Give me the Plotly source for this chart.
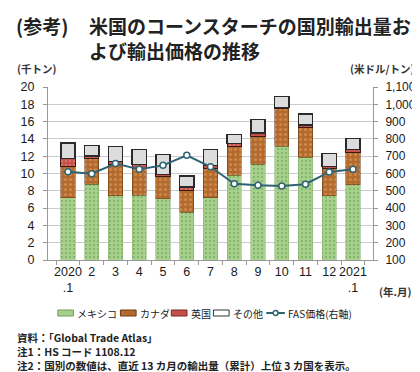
import plotly.graph_objects as go

categories = ["2020<br>.1", "2", "3", "4", "5", "6", "7", "8", "9", "10", "11", "12", "2021<br>.1"]
mexico = [7.2, 8.75, 7.4, 7.5, 7.1, 5.5, 7.2, 9.8, 11.05, 13.15, 11.9, 7.4, 8.7]
canada = [3.65, 3.0, 3.65, 3.05, 2.55, 2.5, 3.35, 3.35, 3.25, 4.35, 3.45, 3.2, 3.7]
uk = [0.9, 0.25, 0.35, 0.5, 0.25, 0.45, 0.4, 0.3, 0.4, 0.15, 0.25, 0.2, 0.4]
other = [1.8, 1.25, 1.7, 1.75, 2.3, 1.25, 1.8, 1.05, 1.55, 1.25, 1.3, 1.5, 1.25]
fas_price = [610, 599, 658, 624, 647, 705, 639, 541, 532, 528, 538, 609, 624]

series_names = ["メキシコ", "カナダ", "英国", "その他", "FAS価格(右軸)"]

FONT = "Noto Sans CJK JP"
NUMFONT = "Liberation Sans, Noto Sans CJK JP"
GREEN, GREEN_FG = "#a8d08d", "#5e9a4c"
BROWN, BROWN_FG = "#b36a2e", "#e6a766"
RED, RED_FG = "#c4504a", "#f09080"
GREY = "#dcdcdc"
LINEC = "#2f6373"

fig = go.Figure()
fig.add_trace(go.Bar(
    x=categories, y=mexico, name=series_names[0],
    marker=dict(color=GREEN, line=dict(color="#7fae6a", width=0.5),
                pattern=dict(shape=".", fgcolor=GREEN_FG, size=4, solidity=0.25)),
))
fig.add_trace(go.Bar(
    x=categories, y=canada, name=series_names[1],
    marker=dict(color=BROWN, line=dict(color="#5a3010", width=0.5),
                pattern=dict(shape=".", fgcolor=BROWN_FG, size=5, solidity=0.3)),
))
fig.add_trace(go.Bar(
    x=categories, y=uk, name=series_names[2],
    marker=dict(color=RED, line=dict(color="#3a1a10", width=1),
                pattern=dict(shape=".", fgcolor=RED_FG, size=4, solidity=0.3)),
))
fig.add_trace(go.Bar(
    x=categories, y=other, name=series_names[3],
    marker=dict(color=GREY, line=dict(color="#2a2a2a", width=1.5)),
))
fig.add_trace(go.Scatter(
    x=categories, y=fas_price, name=series_names[4], yaxis="y2",
    mode="lines+markers",
    line=dict(color=LINEC, width=2),
    marker=dict(symbol="circle", size=6, color="white", line=dict(color=LINEC, width=1.5)),
))

plot_top, plot_bottom, plot_left, plot_right = 79, 252, 40, 372
ph = plot_bottom - plot_top
pw = plot_right - plot_left

def py(ypix):
    return (plot_bottom - ypix) / ph

def px(xpix):
    return (xpix - plot_left) / pw

fig.update_layout(
    width=420, height=372,
    margin=dict(l=plot_left, r=420 - plot_right, t=plot_top, b=372 - plot_bottom),
    paper_bgcolor="white", plot_bgcolor="white",
    barmode="stack", bargap=0.41,
    font=dict(family=FONT, color="#222222", size=12),
    showlegend=False,
    xaxis=dict(type="category", showgrid=False, showline=True, linecolor="#999999", linewidth=1,
               ticks="outside", tickson="boundaries", ticklen=4, tickcolor="#999999",
               tickfont=dict(size=12.5, family=NUMFONT, color="#1a1a1a"), tickangle=0),
    yaxis=dict(range=[0, 20], dtick=2, showgrid=True, gridcolor="#cccccc", gridwidth=1,
               showline=True, linecolor="#999999", ticks="outside", ticklen=4, tickcolor="#999999",
               ticklabelstandoff=6,
               tickfont=dict(size=12.5, family=NUMFONT, color="#1a1a1a"), zeroline=False),
    yaxis2=dict(range=[100, 1100], dtick=100, overlaying="y", side="right", showgrid=False,
                showline=True, linecolor="#999999", ticks="outside", ticklen=4, tickcolor="#999999",
                ticklabelstandoff=5,
                tickformat=",", tickfont=dict(size=12, family=NUMFONT, color="#1a1a1a"), zeroline=False),
)

annotations = [
    dict(text="<b>(参考)</b>", x=px(5), y=py(17), xanchor="left", yanchor="middle",
         font=dict(size=19, family=FONT, color="#222")),
    dict(text="<b>米国のコーンスターチの国別輸出量お</b>", x=px(80), y=py(17), xanchor="left", yanchor="middle",
         font=dict(size=19, family=FONT, color="#222")),
    dict(text="<b>よび輸出価格の推移</b>", x=px(80), y=py(42), xanchor="left", yanchor="middle",
         font=dict(size=19, family=FONT, color="#222")),
    dict(text="<b>(千トン)</b>", x=px(6), y=py(61), xanchor="left", yanchor="middle",
         font=dict(size=10.5, family=FONT, color="#333")),
    dict(text="<b>(米ドル/トン)</b>", x=px(417), y=py(61), xanchor="right", yanchor="middle",
         font=dict(size=10.5, family=FONT, color="#333")),
    dict(text="<b>(年.月)</b>", x=px(376), y=py(283), xanchor="left", yanchor="middle",
         font=dict(size=10.5, family=FONT, color="#333")),
    dict(text="<b>資料：「Global Trade Atlas」</b>", x=px(6), y=py(329), xanchor="left", yanchor="middle",
         font=dict(size=10.5, family=FONT, color="#222")),
    dict(text="<b>注1：HS コード 1108.12</b>", x=px(6), y=py(343), xanchor="left", yanchor="middle",
         font=dict(size=10.5, family=FONT, color="#222")),
    dict(text="<b>注2：国別の数値は、直近 13 カ月の輸出量（累計）上位 3 カ国を表示。</b>", x=px(6), y=py(357),
         xanchor="left", yanchor="middle", font=dict(size=10.5, family=FONT, color="#222")),
]

# custom single-row legend, like the reference
leg_y = 305
LFS = 10
swatch_x = [50, 114, 166, 209]
text_widths_start = [68, 132, 184, 227]
swatch_style = [(GREEN, "#6f9f5a"), (BROWN, "#6a3a14"), (RED, "#7a2a20"), ("white", "#333333")]
shapes = []
for x0, tx, (fill, edge), name in zip(swatch_x, text_widths_start, swatch_style, series_names[:4]):
    shapes.append(dict(type="rect", xref="paper", yref="paper",
                       x0=px(x0), x1=px(x0 + 16), y0=py(leg_y + 3), y1=py(leg_y - 3),
                       fillcolor=fill, line=dict(color=edge, width=1)))
    annotations.append(dict(text=name, x=px(tx), y=py(leg_y), xanchor="left", yanchor="middle",
                            font=dict(size=LFS, family=FONT, color="#222")))
shapes.append(dict(type="line", xref="paper", yref="paper", x0=px(263), x1=px(282),
                   y0=py(leg_y), y1=py(leg_y), line=dict(color=LINEC, width=2)))
shapes.append(dict(type="circle", xref="paper", yref="paper", x0=px(270), x1=px(275),
                   y0=py(leg_y + 2.5), y1=py(leg_y - 2.5), fillcolor="white", line=dict(color=LINEC, width=1.5)))
annotations.append(dict(text=series_names[4], x=px(283), y=py(leg_y), xanchor="left", yanchor="middle",
                        font=dict(size=LFS, family=FONT, color="#222")))

for a in annotations:
    a.update(xref="paper", yref="paper", showarrow=False)
fig.update_layout(annotations=annotations, shapes=shapes)

fig.write_html("out.html")
